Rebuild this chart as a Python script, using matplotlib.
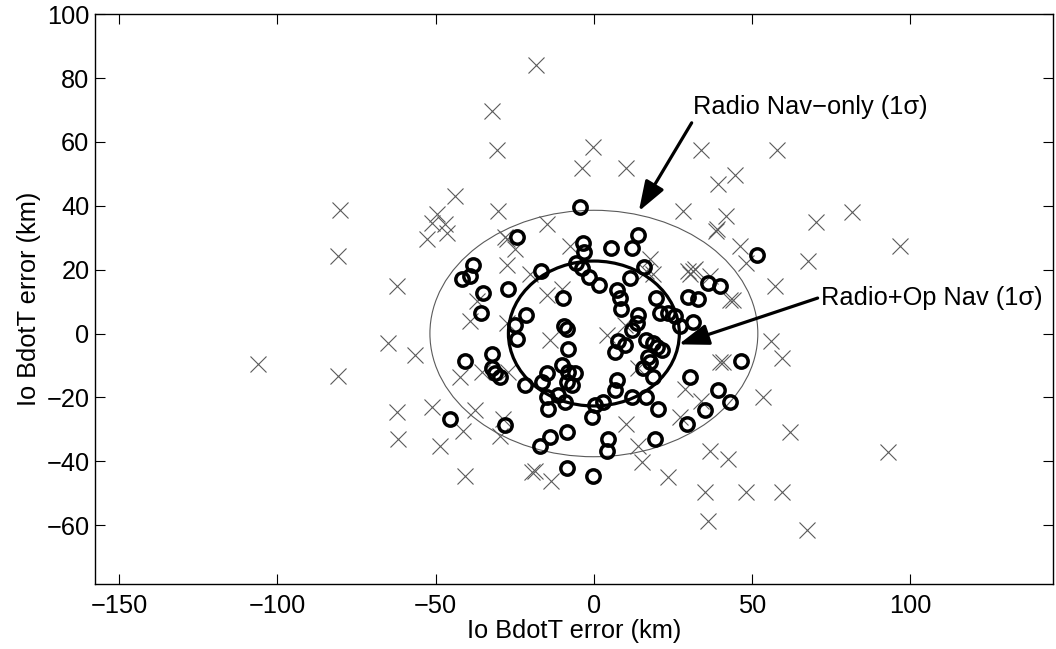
import matplotlib
matplotlib.use("Agg")
import matplotlib.pyplot as plt
from matplotlib.patches import Ellipse

plt.rcParams["font.family"] = ["Liberation Sans", "DejaVu Sans"]
plt.rcParams["font.size"] = 18.3

# radio nav-only solutions (grey crosses)
radio_x = [-80.2, -80.8, -62.2, -106.1, -65.0, -80.8, -62.2, -61.9,
           -18.3, -32.3, -30.7, -0.2, -3.6, 10.1, 34.0, 57.7, 39.2, 44.5,
           -43.9, -49.7, -51.0, -47.0, -46.5, -52.8, -30.2, -14.9, -27.6,
           -7.6, -24.9, 28.2, 41.9, 38.7, 39.0, 46.1, 48.2, 31.4, 30.3,
           42.9, 57.2, -28.1, -27.6, -14.9, -20.2, 16.6, 18.7, -37.0, -39.2,
           70.3, 81.4, 96.6, 67.7, 44.0,
           56.1, 59.3, 39.8, 40.8, 53.5, 61.9, 36.6, 42.4, 92.9, 35.0, 48.2,
           59.3, 36.1, 67.2, 34.0,
           -56.5, -51.2, -48.6, -40.7, -42.3, -37.6, -41.3, -29.7, -19.7,
           -18.6, -13.4, -13.9, 4.0, 10.3, 14.0, 15.1, 23.5, 28.7, -35.5,
           -28.7, -27.1, 14.0, 27.2, 29.8, 31.9, 36.6, 9.8, 17.7, -10.2,
           -27.6]
radio_y = [38.6, 24.4, 15.0, -9.4, -3.0, -13.4, -24.5, -33.0,
           84.0, 69.8, 57.4, 58.5, 51.9, 51.9, 57.6, 57.4, 46.9, 49.5,
           43.2, 37.4, 34.6, 34.3, 31.6, 29.5, 38.5, 34.3, 29.5,
           27.4, 26.4, 38.5, 36.9, 32.2, 32.6, 27.4, 22.2, 19.6, 18.5,
           10.6, 14.8, 30.1, 21.6, 12.2, 18.5, 19.6, 18.5, 10.1, 3.8,
           34.8, 38.0, 27.4, 22.7, 10.6,
           -2.5, -7.8, -8.8, -8.8, -19.9, -30.9, -36.7, -39.3, -37.2, -49.8, -49.7,
           -49.7, -58.8, -61.4, -21.0,
           -6.7, -23.0, -35.1, -44.6, -13.6, -24.1, -30.4, -32.0, -43.5,
           -43.0, -46.2, -2.0, -0.4, -28.3, -35.1, -40.4, -45.1, -17.3, -12.0,
           -26.7, -12.0, -10.9, -26.2, 19.6, 20.1, 18.0, 2.7, 23.2, 13.8,
           3.2]

# radio + optical nav solutions (black circles)
opnav_x = [-4.4, -24.4, -3.4, -3.0, 5.5, 13.8, 12.2, 51.4, 15.9, -38.1,
           -41.8, -39.0, -35.0, -35.8, -27.1, -16.8, -9.9, -21.3, -3.8, -1.5,
           1.6, 7.2, 8.2, 8.7, 11.4, 19.5, 20.8, 23.5, 25.6, 29.8,
           32.9, 36.1, 40.0, 14.0, 13.5, 11.9, 31.4, -9.5, -8.5, -24.9,
           -24.4, -8.3, -40.7, -32.3, -32.3, -31.3, -29.7, -21.8, -14.9, -16.5,
           -14.9, -14.4, -10.2, -8.1, -6.0, -8.6, -7.0, -11.3, -9.2, -0.7,
           0.3, 2.9, -45.5, -28.1, -17.1, -13.9, -8.6, -8.4, -0.2, 46.6,
           30.3, 39.2, 42.9, 35.0, 29.3, 20.3, 16.6, 11.9, 7.2, 6.6,
           15.6, 18.7, 17.7, 4.5, 4.0, 19.3, 7.7, 9.8, 6.6, 16.6,
           18.7, 19.8, 21.4, 17.1, 27.2, -5.8]
opnav_y = [39.5, 30.3, 28.2, 25.6, 26.8, 30.9, 26.9, 24.5, 20.8, 21.6,
           17.0, 18.1, 12.6, 6.3, 13.8, 19.7, 11.1, 5.9, 20.5, 17.6,
           15.3, 13.5, 11.2, 7.7, 17.4, 11.1, 6.4, 6.4, 5.4, 11.4,
           10.8, 15.9, 15.0, 5.9, 3.2, 1.1, 3.5, 2.5, 1.5, 2.7,
           -1.8, -4.7, -8.5, -6.5, -10.9, -12.5, -13.6, -16.2, -12.5, -15.1,
           -19.9, -23.6, -9.9, -12.0, -12.5, -15.1, -16.2, -19.4, -21.5, -26.2,
           -22.5, -21.4, -26.7, -28.6, -35.1, -32.5, -30.9, -42.0, -44.6, -8.6,
           -13.6, -17.8, -21.3, -24.1, -28.3, -23.6, -19.9, -19.9, -14.6, -17.8,
           -10.9, -13.6, -8.8, -33.0, -36.7, -33.0, -2.5, -3.6, -5.7, -2.0,
           -3.1, -4.1, -5.2, -7.3, 2.5, 22.0]

# 1-sigma ellipses: (semi-axis x, semi-axis y)
radio_sigma = (51.8, 38.6)
opnav_sigma = (27.0, 22.7)

fig = plt.figure(figsize=(10.56, 6.49), dpi=100)
ax = fig.add_axes([0.090, 0.100, 0.907, 0.878])

ax.plot(radio_x, radio_y, "x", color="#5a5a5a", ms=11, mew=0.8, zorder=2)
ax.add_patch(Ellipse((0, 0), 2 * radio_sigma[0], 2 * radio_sigma[1],
                     fill=False, color="#5a5a5a", lw=0.8, zorder=3))
ax.add_patch(Ellipse((0, 0), 2 * opnav_sigma[0], 2 * opnav_sigma[1],
                     fill=False, color="black", lw=2.3, zorder=3))
ax.plot(opnav_x, opnav_y, "o", mfc="none", mec="black", ms=9.6, mew=2.5, zorder=4)

arrow = dict(arrowstyle="-|>,head_length=1.0,head_width=0.35", color="black",
             lw=2.3, shrinkA=0, shrinkB=0)
ax.annotate("", xy=(14.2, 38.3), xytext=(30.9, 66.0), arrowprops=arrow, zorder=5)
ax.text(31.3, 71.1, "Radio Nav\u2212only (1\u03c3)", ha="left", va="center")
ax.annotate("", xy=(26.8, -3.4), xytext=(70.7, 11.1), arrowprops=arrow, zorder=5)
ax.text(71.6, 11.1, "Radio+Op Nav (1\u03c3)", ha="left", va="center")

ax.set_xlim(-157.6, 145)
ax.set_ylim(-78.5, 100)
ax.set_xticks([-150, -100, -50, 0, 50, 100])
ax.set_yticks([-60, -40, -20, 0, 20, 40, 60, 80, 100])
ax.tick_params(direction="in", length=7, width=0.8, top=True, right=True)
ax.tick_params(axis="x", pad=7)
ax.tick_params(axis="y", pad=4)
for s in ax.spines.values():
    s.set_linewidth(1.0)

ax.set_xlabel("Io BdotT error (km)", labelpad=1)
ax.set_ylabel("Io BdotT error (km)", labelpad=4)

fig.savefig("out.png", dpi=100)
